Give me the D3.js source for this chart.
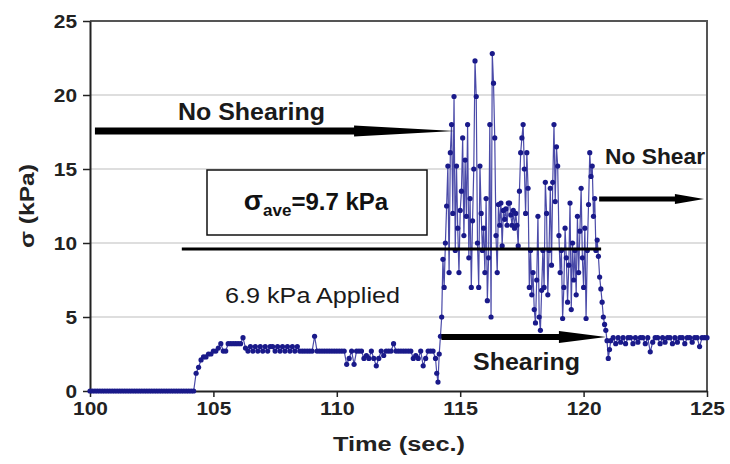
<!DOCTYPE html>
<html>
<head>
<meta charset="utf-8">
<script src="https://cdn.jsdelivr.net/npm/d3@7"></script>
<style>
  body { margin: 0; background: #fff; }
  svg { font-family: "Liberation Sans", Arial, sans-serif; }
</style>
</head>
<body>
<script>
time = [
  100.0,100.1,100.2,100.3,100.4,100.5,100.6,100.7,100.8,100.9,
  101.0,101.1,101.2,101.3,101.4,101.5,101.6,101.7,101.8,101.9,
  102.0,102.1,102.2,102.3,102.4,102.5,102.6,102.7,102.8,102.9,
  103.0,103.1,103.2,103.3,103.4,103.5,103.6,103.7,103.8,103.9,
  104.0,104.1,104.2,104.3,104.4,104.5,104.6,104.7,104.8,104.9,
  105.0,105.1,105.2,105.3,105.4,105.5,105.6,105.7,105.8,105.9,
  106.0,106.1,106.2,106.3,106.4,106.5,106.6,106.7,106.8,106.9,
  107.0,107.1,107.2,107.3,107.4,107.5,107.6,107.7,107.8,107.9,
  108.0,108.1,108.2,108.3,108.4,108.5,108.6,108.7,108.8,108.9,
  109.0,109.1,109.2,109.3,109.4,109.5,109.6,109.7,109.8,109.9,
  110.0,110.1,110.2,110.3,110.4,110.5,110.6,110.7,110.8,110.9,
  111.0,111.1,111.2,111.3,111.4,111.5,111.6,111.7,111.8,111.9,
  112.0,112.1,112.2,112.3,112.4,112.5,112.6,112.7,112.8,112.9,
  113.0,113.1,113.2,113.3,113.4,113.5,113.6,113.7,113.8,113.9,
  114.0,114.05,114.1,114.15,
  114.20,114.25,114.30,114.35,114.40,114.45,114.50,114.55,114.60,114.65,
  114.70,114.75,114.80,114.85,114.90,114.95,115.00,115.05,115.10,115.15,
  115.20,115.25,115.30,115.35,115.40,115.45,115.50,115.55,115.60,115.65,
  115.70,115.75,115.80,115.85,115.90,115.95,116.00,116.05,116.10,116.15,
  116.20,116.25,116.30,116.35,116.40,116.45,116.50,116.55,116.60,116.65,
  116.70,116.75,116.80,116.85,116.90,116.95,117.00,117.05,117.10,117.15,
  117.20,117.25,117.30,117.35,117.40,117.45,117.50,117.55,117.60,117.65,
  117.70,117.75,117.80,117.85,117.90,117.95,118.00,118.05,118.10,118.15,
  118.20,118.25,118.30,118.35,118.40,118.45,118.50,118.55,118.60,118.65,
  118.70,118.75,118.80,118.85,118.90,118.95,119.00,119.05,119.10,119.15,
  119.20,119.25,119.30,119.35,119.40,119.45,119.50,119.55,119.60,119.65,
  119.70,119.75,119.80,119.85,119.90,119.95,120.00,120.05,120.10,120.15,
  120.20,120.25,120.30,120.35,120.40,120.45,120.50,120.55,120.60,120.65,
  120.70,120.75,120.80,120.85,120.90,120.95,121.00,121.05,
  121.1,121.2,121.3,121.4,121.5,121.6,121.7,121.8,121.9,
  122.0,122.1,122.2,122.3,122.4,122.5,122.6,122.7,122.8,122.9,
  123.0,123.1,123.2,123.3,123.4,123.5,123.6,123.7,123.8,123.9,
  124.0,124.1,124.2,124.3,124.4,124.5,124.6,124.7,124.8,124.9,125.0
]
sigma = [
  0,0,0,0,0,0,0,0,0,0,
  0,0,0,0,0,0,0,0,0,0,
  0,0,0,0,0,0,0,0,0,0,
  0,0,0,0,0,0,0,0,0,0,
  0,0,0,1.2,1.6,2.1,2.3,2.3,2.5,2.5,
  2.7,2.7,2.9,3.2,2.7,2.7,3.2,3.2,3.2,3.2,
  3.2,3.2,3.6,2.9,2.7,3.0,2.7,3.0,2.7,3.0,
  2.7,3.0,2.7,3.0,3.0,2.7,3.0,2.7,3.0,2.7,
  3.0,2.7,3.0,2.7,3.0,2.7,2.7,2.7,2.7,2.7,
  2.7,3.7,2.7,2.7,2.7,2.7,2.7,2.7,2.7,2.7,
  2.7,2.7,2.7,2.7,1.8,2.2,2.7,1.8,2.7,2.7,
  2.7,2.2,2.4,2.2,2.7,2.2,1.7,2.2,2.7,2.4,
  2.7,2.7,2.7,3.2,2.7,2.7,2.7,2.7,2.7,2.7,
  2.7,2.2,2.4,2.2,2.7,1.7,2.2,2.7,2.7,2.7,
  2.2,1.2,0.6,2.5,
  3.7,5.0,8.9,7.0,10.0,12.5,15.2,8.0,16.1,18.0,
  12.0,19.9,9.5,15.2,11.0,8.0,12.2,13.5,17.1,10.5,
  15.6,11.8,18.0,9.0,13.0,7.0,11.5,15.0,22.3,19.9,
  10.0,7.0,15.2,12.0,9.5,11.0,8.0,13.0,6.1,9.0,
  18.0,5.0,22.8,20.8,17.1,10.5,8.0,12.6,11.2,12.7,
  9.8,12.2,11.6,12.3,11.2,12.7,12.7,11.9,11.2,12.2,
  11.0,12.0,11.2,9.8,13.5,16.1,17.1,18.0,15.0,12.0,
  16.1,13.7,7.0,9.5,6.5,8.0,5.5,4.6,7.5,11.8,
  5.0,4.1,6.8,9.5,7.0,14.1,12.0,6.5,9.5,13.7,
  8.5,14.1,18.0,12.8,16.5,15.2,10.5,8.0,9.5,4.9,
  7.0,11.0,9.0,6.0,8.5,12.7,5.5,10.0,7.5,9.5,
  6.5,11.8,8.0,10.8,13.7,9.0,7.0,11.0,4.9,9.5,
  12.6,16.1,14.5,15.2,11.8,13.0,9.5,10.2,9.1,7.7,
  6.9,6.0,5.0,4.5,4.1,3.4,2.2,2.8,
  3.4,3.6,3.2,3.6,3.3,3.6,3.2,3.6,3.6,
  3.2,3.6,3.3,3.6,3.6,3.2,3.6,2.65,3.3,3.6,
  3.6,3.2,3.6,3.3,3.6,3.6,3.2,3.6,3.3,3.6,
  3.6,3.2,3.6,3.6,3.3,3.6,3.6,3.0,3.6,3.6,3.6
]
xTicks = [100, 105, 110, 115, 120, 125]
yTicks = [0, 5, 10, 15, 20, 25]
sigmaAve = 9.6

data = time.map((t, i) => ({t: t, s: sigma[i]}))

width = 730
height = 464
margin = ({top: 21, right: 23, bottom: 73, left: 90})

x = d3.scaleLinear().domain([100, 125]).range([margin.left, width - margin.right])
y = d3.scaleLinear().domain([0, 25]).range([height - margin.bottom, margin.top])

const svg = d3.select("body").append("svg")
    .attr("width", width)
    .attr("height", height)

// gridlines
svg.append("g")
    .selectAll("line")
    .data(yTicks.slice(1, -1))
    .join("line")
    .attr("x1", x(100)).attr("x2", x(125))
    .attr("y1", d => y(d)).attr("y2", d => y(d))
    .attr("stroke", "#bdbdbd")
    .attr("stroke-width", 1)

// frame top / right
svg.append("path")
    .attr("d", `M${x(100)},${y(25)}H${x(125)}V${y(0)}`)
    .attr("fill", "none")
    .attr("stroke", "#555")
    .attr("stroke-width", 2)

// axes
const xAxis = svg.append("g")
    .attr("transform", `translate(0,${y(0)})`)
    .call(d3.axisBottom(x).tickValues(xTicks).tickSize(6).tickPadding(5).tickSizeOuter(0))
const yAxis = svg.append("g")
    .attr("transform", `translate(${x(100)},0)`)
    .call(d3.axisLeft(y).tickValues(yTicks).tickSize(7).tickPadding(6).tickSizeOuter(0))

// the source lettering is a bit wider than Liberation, hence textLength
for (const g of [xAxis, yAxis]) {
  g.select(".domain").attr("stroke", "#222").attr("stroke-width", 2)
  g.selectAll(".tick line").attr("stroke", "#222").attr("stroke-width", 1.5)
  g.selectAll(".tick text")
      .attr("font-size", 19)
      .attr("font-weight", "bold")
      .attr("fill", "#222")
      .attr("font-family", "Liberation Sans, Arial, sans-serif")
      .attr("textLength", d => String(d).length * 11.6)
      .attr("lengthAdjust", "spacingAndGlyphs")
}

svg.append("text")
    .attr("x", 399)
    .attr("y", 451)
    .attr("text-anchor", "middle")
    .attr("font-size", 20)
    .attr("font-weight", "bold")
    .attr("fill", "#222")
    .attr("textLength", 132)
    .attr("lengthAdjust", "spacingAndGlyphs")
    .text("Time (sec.)")

svg.append("text")
    .attr("transform", `translate(34,${y(12.5)}) rotate(-90)`)
    .attr("text-anchor", "middle")
    .attr("font-size", 20)
    .attr("font-weight", "bold")
    .attr("fill", "#222")
    .attr("textLength", 84)
    .attr("lengthAdjust", "spacingAndGlyphs")
    .text("σ (kPa)")

// measured data
const line = d3.line().x(d => x(d.t)).y(d => y(d.s))

svg.append("path")
    .datum(data)
    .attr("d", line)
    .attr("fill", "none")
    .attr("stroke", "#4a4aa8")
    .attr("stroke-width", 1.2)

svg.append("g")
    .attr("fill", "#1a1a8a")
    .selectAll("circle")
    .data(data)
    .join("circle")
    .attr("cx", d => x(d.t))
    .attr("cy", d => y(d.s))
    .attr("r", 2.6)

// arrows (data coords)
function arrow(t0, t1, tHead, s, body, head) {
  const y0 = y(s)
  const p = [
    [x(t0), y0 - body], [x(tHead), y0 - body], [x(tHead), y0 - head],
    [x(t1), y0], [x(tHead), y0 + head], [x(tHead), y0 + body], [x(t0), y0 + body]
  ]
  svg.append("path")
      .attr("d", "M" + p.map(d => d.join(",")).join("L") + "Z")
      .attr("fill", "#000")
}

arrow(100.2, 114.77, 110.7, 17.57, 3.5, 5.5)
arrow(114.24, 120.91, 119.0, 3.65, 3, 6)
arrow(120.63, 124.88, 123.7, 12.97, 2.5, 5)

// average line
svg.append("line")
    .attr("x1", x(103.72)).attr("x2", x(120.71))
    .attr("y1", y(sigmaAve)).attr("y2", y(sigmaAve))
    .attr("stroke", "#000")
    .attr("stroke-width", 3)

// average box
svg.append("rect")
    .attr("x", 207).attr("y", 170)
    .attr("width", 220).attr("height", 65)
    .attr("fill", "#fff")
    .attr("stroke", "#111")
    .attr("stroke-width", 1.5)

const ave = svg.append("text")
    .attr("x", 316)
    .attr("y", 210)
    .attr("text-anchor", "middle")
    .attr("font-weight", "bold")
    .attr("fill", "#111")
ave.append("tspan").attr("font-size", 28).text("σ")
ave.append("tspan").attr("font-size", 17).attr("dy", 6).text("ave")
ave.append("tspan").attr("font-size", 24).attr("dy", -6).text("=9.7 kPa")

// labels
const labels = [
  {text: "No Shearing", x: 178, y: 120, size: 23, len: 147, weight: "bold"},
  {text: "No Shear", x: 605, y: 164, size: 22, len: 100, weight: "bold"},
  {text: "Shearing", x: 473, y: 370, size: 23, len: 107, weight: "bold"},
  {text: "6.9 kPa Applied", x: 225, y: 303, size: 22, len: 175, weight: "normal"}
]
svg.append("g")
    .selectAll("text")
    .data(labels)
    .join("text")
    .attr("x", d => d.x)
    .attr("y", d => d.y)
    .attr("font-size", d => d.size)
    .attr("font-weight", d => d.weight)
    .attr("fill", "#1a1a1a")
    .attr("textLength", d => d.len)
    .attr("lengthAdjust", "spacingAndGlyphs")
    .text(d => d.text)
</script>
</body>
</html>
